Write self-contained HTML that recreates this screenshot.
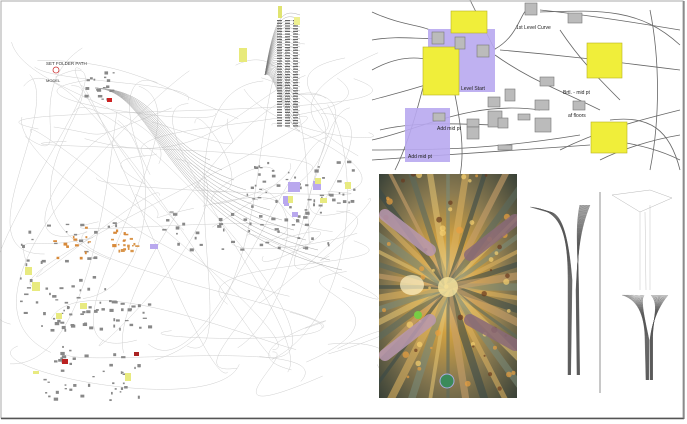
<!DOCTYPE html>
<html><head><meta charset="utf-8"><style>
html,body{margin:0;padding:0;background:#fff;width:687px;height:424px;overflow:hidden;}
svg{display:block;font-family:"Liberation Sans",sans-serif;}
</style></head><body>
<svg id="s" width="687" height="424" viewBox="0 0 687 424" xmlns="http://www.w3.org/2000/svg">
<defs>
<radialGradient id="pg" cx="0.5" cy="0.5" r="0.7">
<stop offset="0" stop-color="#f8e0a0"/><stop offset="0.3" stop-color="#d0a040"/><stop offset="0.6" stop-color="#8a7a50"/><stop offset="1" stop-color="#3a4238"/></radialGradient>
<clipPath id="cp"><rect x="379" y="174" width="138" height="224"/></clipPath>
</defs>
<rect x="0" y="0" width="687" height="424" fill="#fff"/>
<g id="wires" fill="none" stroke="#cfcfcf" stroke-width="0.5"></g>
<g id="nodes"></g>
<text x="46" y="65" font-size="4.5" fill="#333">SET FOLDER PATH</text>
<text x="46" y="82" font-size="4" fill="#333">MODEL</text>
<circle cx="56" cy="70" r="3" fill="none" stroke="#c33" stroke-width="0.8"/>
<rect x="107" y="98" width="5" height="4" fill="#c22"/>
<rect x="239" y="48" width="8" height="14" fill="#e8ea7a"/>
<rect x="278" y="6" width="4" height="12" fill="#e0e470"/>
<rect x="294" y="17" width="6" height="8" fill="#eef090"/>
<g id="tr" fill="none" stroke="#666" stroke-width="0.8"></g>
<rect x="428" y="29" width="67" height="63" fill="#b8a8f0" opacity="0.9"/>
<rect x="405" y="108" width="45" height="54" fill="#b8a8f0" opacity="0.9"/>
<g fill="#f0ee3a" stroke="#b8b420" stroke-width="0.6">
<rect x="451" y="11" width="36" height="22"/>
<rect x="423" y="47" width="36" height="48"/>
<rect x="587" y="43" width="35" height="35"/>
<rect x="591" y="122" width="36" height="31"/>
</g>
<g fill="#bbb" stroke="#777" stroke-width="0.6">
<rect x="432" y="32" width="12" height="12"/><rect x="455" y="37" width="10" height="12"/><rect x="477" y="45" width="12" height="12"/>
<rect x="525" y="3" width="12" height="12"/><rect x="568" y="13" width="14" height="10"/>
<rect x="540" y="77" width="14" height="9"/><rect x="573" y="101" width="12" height="9"/>
<rect x="505" y="89" width="10" height="12"/><rect x="488" y="97" width="12" height="10"/>
<rect x="535" y="100" width="14" height="10"/><rect x="518" y="114" width="12" height="6"/>
<rect x="535" y="118" width="16" height="14"/><rect x="488" y="111" width="14" height="16"/>
<rect x="467" y="119" width="12" height="8"/><rect x="433" y="113" width="12" height="8"/>
<rect x="467" y="127" width="12" height="12"/><rect x="498" y="118" width="10" height="10"/>
<rect x="498" y="145" width="14" height="5"/>
</g>
<g font-size="5" fill="#222">
<text x="516" y="29">1st Level Curve</text>
<text x="461" y="90">Level Start</text>
<text x="563" y="94">Brtl. - mid pt</text>
<text x="568" y="117">af floors</text>
<text x="437" y="130">Add mid pt</text>
<text x="408" y="158">Add mid pt</text>
</g>
<rect x="379" y="174" width="138" height="224" fill="url(#pg)"/>
<g id="ph" stroke-linecap="round" clip-path="url(#cp)"></g>
<ellipse cx="412" cy="285" rx="12" ry="10" fill="#fff4c8" opacity="0.7"/>
<circle cx="447" cy="381" r="7" fill="#3b8a5a" stroke="#aad" stroke-width="1"/>
<circle cx="418" cy="315" r="4" fill="#7c4"/>
<g id="cd" fill="none" stroke="#555" stroke-width="0.35"></g>
<line x1="600" y1="192" x2="600" y2="393" stroke="#777" stroke-width="0.8"/>
<rect x="1" y="1" width="682" height="417" fill="none" stroke="#aaa" stroke-width="1"/>
<line x1="1" y1="418.5" x2="684" y2="418.5" stroke="#555" stroke-width="1.5"/>
<line x1="684" y1="1" x2="684" y2="419" stroke="#777" stroke-width="1.2"/>
</svg>
<script>
var NS="http://www.w3.org/2000/svg";
var seed=7;function r(){seed=(seed*16807)%2147483647;return seed/2147483647;}
function el(p,t,a){var e=document.createElementNS(NS,t);for(var k in a)e.setAttribute(k,a[k]);document.getElementById(p).appendChild(e);return e;}
for(var i=0;i<70;i++){
 var x1=10+r()*360,y1=60+r()*330,x2=10+r()*370,y2=40+r()*340;
 var cx1=x1+(r()-0.3)*200,cy1=y1+(r()-0.5)*120,cx2=x2-(r()-0.3)*200,cy2=y2+(r()-0.5)*120;
 el("wires","path",{d:"M"+x1+" "+y1+" C"+cx1+" "+cy1+" "+cx2+" "+cy2+" "+x2+" "+y2});
}
for(var i=0;i<12;i++){el("wires","path",{d:"M95 88 C160 90 160 "+(140+i*8)+" "+(210+i*12)+" "+(160+i*10),stroke:"#aaa"});}
for(var i=0;i<30;i++){el("wires","path",{d:"M265 75 C275 "+(10+i*2)+" 285 "+(10+i*4)+" 300 "+(15+i*4),stroke:"#777","stroke-width":"0.3"});}
function cluster(cx,cy,w,h,n,col){for(var i=0;i<n;i++){el("nodes","rect",{x:cx+r()*w,y:cy+r()*h,width:1.5+r()*3,height:1.2+r()*2,fill:col||"#888"});}}
cluster(84,70,30,30,20);
for(var c=0;c<3;c++)for(var j=0;j<40;j++)el("nodes","rect",{x:277+c*8,y:20+j*2.7,width:5,height:1.2,fill:"#666"});
cluster(245,160,110,60,60);
cluster(20,220,100,110,55);
cluster(45,225,80,35,20,"#d88a3a");
cluster(90,235,50,15,12,"#d9954a");
cluster(50,300,100,30,40);
cluster(40,345,100,60,45);
cluster(150,210,180,40,40);
[[288,182,12,10],[313,181,8,9],[284,201,5,5],[292,212,6,5],[150,244,8,5],[283,196,6,8]].forEach(function(a){el("nodes","rect",{x:a[0],y:a[1],width:a[2],height:a[3],fill:"#b9a8ee"});});
[[25,267,7,8],[32,282,8,9],[80,303,7,6],[56,313,6,6],[125,373,6,8],[33,371,6,3],[315,178,6,6],[320,198,7,5],[288,196,5,7],[345,182,6,7]].forEach(function(a){el("nodes","rect",{x:a[0],y:a[1],width:a[2],height:a[3],fill:"#e8ea80"});});
el("nodes","rect",{x:62,y:359,width:6,height:5,fill:"#b22"});el("nodes","rect",{x:134,y:352,width:5,height:4,fill:"#a22"});
var tw=["M372 40 C400 35 420 40 440 38","M372 70 C390 60 410 55 430 60","M372 140 C420 130 470 100 540 110","M380 130 C420 120 470 125 500 125","M372 150 C450 150 500 148 580 135","M372 160 C440 155 520 150 590 145","M495 49 C520 35 520 10 530 8","M540 10 C580 14 620 20 680 30","M540 12 C600 10 640 8 680 45","M500 50 C560 55 600 60 680 70","M495 55 C530 80 560 90 600 110","M610 140 C640 145 660 150 680 160","M560 150 C600 130 640 120 680 110","M600 160 C620 150 650 140 680 135","M650 10 C660 60 660 120 650 170","M610 120 C650 115 670 130 680 170","M395 170 C410 140 420 100 430 60","M455 95 C460 120 465 150 460 175","M372 100 C390 95 410 90 425 85","M470 0 C480 20 490 40 495 50","M560 30 C580 60 600 80 620 100","M372 12 C400 25 420 25 430 30"];
tw.forEach(function(d){el("tr","path",{d:d});});
var cx=448,cy=287;
for(var i=0;i<40;i++){var a=i/40*Math.PI*2,l=160;var col=["#7a8a78","#d9b060","#3a4a48","#c9a06a","#5b6a5e","#e0c070"][i%6];
 el("ph","line",{x1:cx,y1:cy,x2:cx+Math.cos(a)*l,y2:cy+Math.sin(a)*l,stroke:col,"stroke-width":3+r()*5,opacity:0.6});}
for(var i=0;i<60;i++){el("ph","circle",{cx:379+r()*138,cy:174+r()*224,r:1+r()*2.5,fill:["#f5d070","#6a3a20","#e8a040"][i%3],opacity:0.7});}
el("ph","circle",{cx:448,cy:287,r:10,fill:"#f7e6a0",opacity:0.8});
el("ph","line",{x1:385,y1:215,x2:430,y2:250,stroke:"#b898b0","stroke-width":12,opacity:0.85});
el("ph","line",{x1:385,y1:355,x2:430,y2:320,stroke:"#b898b0","stroke-width":12,opacity:0.85});
el("ph","line",{x1:515,y1:220,x2:470,y2:255,stroke:"#8a6a78","stroke-width":12,opacity:0.85});
el("ph","line",{x1:515,y1:345,x2:470,y2:320,stroke:"#8a6a78","stroke-width":12,opacity:0.85});
for(var i=0;i<18;i++){var o=i*0.8;
 el("cd","path",{d:"M"+(530+i)+" "+(207+i*0.3)+" C560 210 568 230 "+(568+o*0.3)+" 280 L"+(568+o*0.2)+" 375"});
 el("cd","path",{d:"M"+(590-i*0.6)+" 205 C"+(580-i*0.3)+" 230 578 250 "+(576+o*0.2)+" 290 L"+(577+o*0.2)+" 375"});
 el("cd","path",{d:"M"+(622+i*1.3)+" 295 C640 300 645 320 "+(645+o*0.3)+" 340 L"+(646+o*0.2)+" 380"});
 el("cd","path",{d:"M"+(668-i)+" 295 C660 305 652 320 "+(650+o*0.2)+" 340 L"+(650+o*0.2)+" 380"});
}
el("cd","path",{d:"M612 195 L650 190 L672 198 L640 212 Z",stroke:"#999"});
el("cd","path",{d:"M640 212 L640 290 M645 212 L646 290 M650 205 L650 290",stroke:"#aaa"});
</script>
</body></html>
